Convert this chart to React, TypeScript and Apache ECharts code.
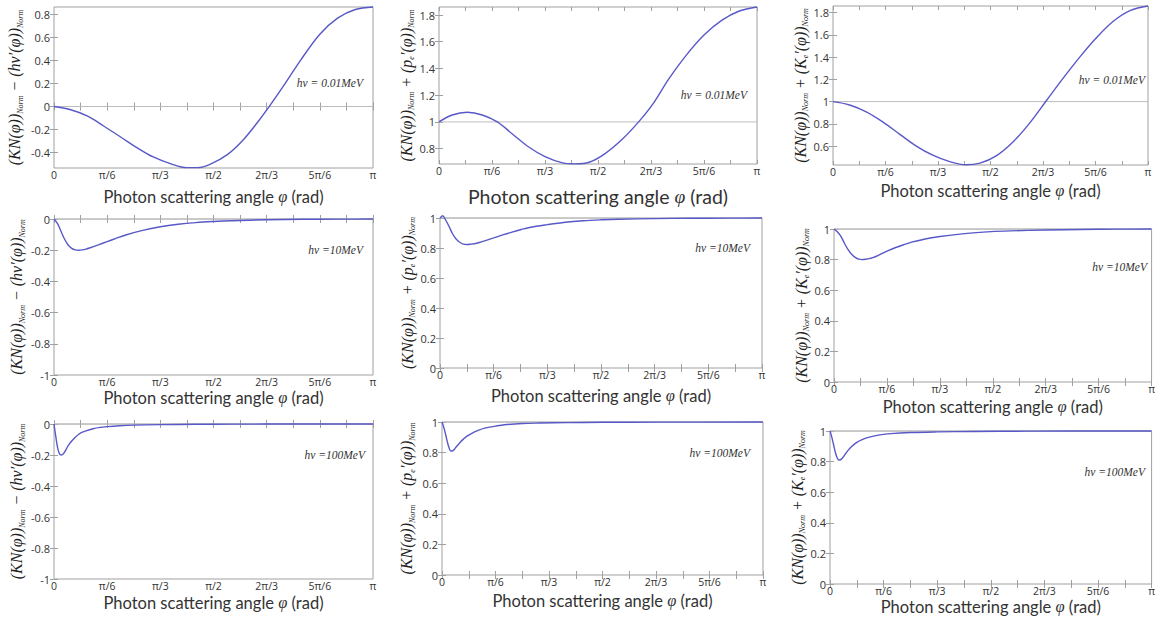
import React, { useEffect, useRef } from "react";
import * as echarts from "echarts";

// Angles are in degrees (0..180 corresponds to 0..π rad)
const xTickAngles = [0, 15, 30, 45, 60, 75, 90, 105, 120, 135, 150, 165, 180];
const xLabelAngles = [0, 30, 60, 90, 120, 150, 180];
const xLabelTexts = ["0", "π/6", "π/3", "π/2", "2π/3", "5π/6", "π"];

// Row 1: hν = 0.01 MeV
const p1Angle = [0, 9, 19, 28, 38, 47, 56, 66, 75, 81, 88, 98, 107, 115, 121, 130, 139, 150, 160, 170, 180];
const p1Value = [0, -0.026, -0.084, -0.17, -0.27, -0.36, -0.44, -0.5, -0.533, -0.533, -0.504, -0.417, -0.287, -0.135, -0.01, 0.19, 0.4, 0.63, 0.77, 0.845, 0.867];
const p2Angle = [0, 7.5, 16, 24.5, 33, 41.5, 51, 60, 70, 77, 85, 94, 104, 113, 121, 130, 140, 150, 160, 170, 180];
const p2Value = [1.0, 1.052, 1.072, 1.052, 1.0, 0.91, 0.81, 0.74, 0.693, 0.686, 0.698, 0.763, 0.874, 1.0, 1.133, 1.32, 1.5, 1.65, 1.76, 1.83, 1.86];
const p3Angle = [0, 9.5, 19, 28.6, 38, 47.6, 57, 66.7, 76, 84, 93, 103, 112, 122, 131, 141, 150, 160, 170, 180];
const p3Value = [1.0, 0.97, 0.908, 0.816, 0.708, 0.6, 0.518, 0.46, 0.432, 0.447, 0.51, 0.64, 0.8, 1.01, 1.2, 1.4, 1.565, 1.72, 1.82, 1.86];

// Row 2: hν = 10 MeV
const p4Angle = [0, 2, 4, 6, 8, 10, 12, 14, 16, 18, 20, 25, 30, 35, 40, 50, 60, 70, 80, 90, 100, 120, 140, 160, 180];
const p4Value = [0, -0.03, -0.08, -0.13, -0.167, -0.188, -0.198, -0.2, -0.198, -0.193, -0.186, -0.166, -0.145, -0.124, -0.104, -0.073, -0.05, -0.034, -0.023, -0.016, -0.011, -0.005, -0.002, -0.001, 0];
const p5Angle = [0, 1.5, 3, 5, 7, 9, 11, 13, 15, 17, 20, 25, 30, 35, 40, 45, 50, 60, 70, 80, 90, 100, 120, 140, 160, 180];
const p5Value = [1.0, 1.015, 0.99, 0.945, 0.895, 0.86, 0.838, 0.826, 0.823, 0.825, 0.83, 0.848, 0.867, 0.887, 0.905, 0.922, 0.937, 0.956, 0.972, 0.982, 0.988, 0.992, 0.996, 0.998, 0.999, 1.0];
const p6Angle = [0, 2, 4, 6, 8, 10, 12, 14, 16, 18, 20, 22, 24, 26, 28, 31, 35, 40, 44, 50, 59, 74, 89, 100, 120, 140, 160, 180];
const p6Value = [1.0, 0.98, 0.95, 0.905, 0.865, 0.835, 0.815, 0.803, 0.8, 0.802, 0.806, 0.813, 0.822, 0.833, 0.844, 0.86, 0.879, 0.899, 0.914, 0.93, 0.949, 0.97, 0.983, 0.988, 0.993, 0.997, 0.999, 1.0];

// Row 3: hν = 100 MeV
const p7Angle = [0, 1, 2, 3, 4, 5, 6, 7, 8, 10, 12, 14, 16, 18, 22, 26, 30, 37, 45, 60, 80, 100, 140, 180];
const p7Value = [0, -0.08, -0.15, -0.19, -0.2, -0.195, -0.18, -0.16, -0.14, -0.11, -0.085, -0.066, -0.053, -0.044, -0.031, -0.022, -0.017, -0.011, -0.007, -0.004, -0.002, -0.001, 0, 0];
const p8Angle = [0, 1, 2, 3, 4, 5, 6, 7, 8, 10, 12, 14, 17, 20, 24, 30, 35, 45, 55, 70, 90, 120, 180];
const p8Value = [1, 0.965, 0.92, 0.87, 0.83, 0.81, 0.812, 0.822, 0.838, 0.865, 0.888, 0.908, 0.928, 0.944, 0.96, 0.973, 0.982, 0.99, 0.993, 0.996, 0.998, 0.999, 1];
const p9Angle = [0, 1, 2, 3, 4, 5, 6, 7, 8, 10, 12, 15, 18, 22, 28, 34, 45, 60, 80, 110, 180];
const p9Value = [1, 0.96, 0.91, 0.86, 0.825, 0.81, 0.813, 0.825, 0.84, 0.872, 0.897, 0.926, 0.944, 0.96, 0.975, 0.983, 0.99, 0.994, 0.997, 0.999, 1];

// Axis ranges and tick labels
const yTicksP1 = [-0.4, -0.2, 0, 0.2, 0.4, 0.6, 0.8];
const yTicksP2 = [0.8, 1, 1.2, 1.4, 1.6, 1.8];
const yTicksP3 = [0.6, 0.8, 1, 1.2, 1.4, 1.6, 1.8];
const yTicksNeg = [-1, -0.8, -0.6, -0.4, -0.2, 0];
const yTicksPos = [0, 0.2, 0.4, 0.6, 0.8, 1];
const yMins = [-0.536, 0.685, 0.43, -1, 0, 0, -1, 0, 0];
const yMaxs = [0.867, 1.86, 1.86, 0, 1, 1, 0, 1, 1];
const refValues = [0, 1, 1, 0, 1, 1, 0, 1, 1];
const energies = ["0.01", "0.01", "0.01", "10", "10", "10", "100", "100", "100"];

const angles = [p1Angle, p2Angle, p3Angle, p4Angle, p5Angle, p6Angle, p7Angle, p8Angle, p9Angle];
const values = [p1Value, p2Value, p3Value, p4Value, p5Value, p6Value, p7Value, p8Value, p9Value];
const yTicks = [yTicksP1, yTicksP2, yTicksP3, yTicksNeg, yTicksPos, yTicksPos, yTicksNeg, yTicksPos, yTicksPos];

const yNames = [
  "{m|(KN(φ))}{s|Norm}{m| − (hν′(φ))}{s|Norm}",
  "{m|(KN(φ))}{s|Norm}{m| + (p}{s|e}{m|′(φ))}{s|Norm}",
  "{m|(KN(φ))}{s|Norm}{m| + (K}{s|e}{m|′(φ))}{s|Norm}",
];

const layouts = [
  { left: 54, top: 7, width: 319, height: 161, xGap: 20, yGap: 30, xFont: 16.5, ax: 363, ay: 83 },
  { left: 439, top: 7, width: 318, height: 157, xGap: 22, yGap: 22, xFont: 19.5, ax: 747, ay: 95 },
  { left: 833, top: 6, width: 315, height: 159, xGap: 17, yGap: 19, xFont: 16.5, ax: 1145, ay: 80 },
  { left: 54, top: 219, width: 319, height: 156, xGap: 14, yGap: 28, xFont: 16.5, ax: 363, ay: 250 },
  { left: 440, top: 218, width: 322, height: 150, xGap: 19, yGap: 22, xFont: 16.5, ax: 750, ay: 248 },
  { left: 834, top: 229, width: 322, height: 153, xGap: 16, yGap: 18, xFont: 16.5, ax: 1147, ay: 267 },
  { left: 54, top: 424, width: 319, height: 155, xGap: 15, yGap: 28, xFont: 16.5, ax: 365, ay: 455 },
  { left: 442, top: 422, width: 321, height: 153, xGap: 17, yGap: 26, xFont: 16.5, ax: 750, ay: 453 },
  { left: 830, top: 431, width: 322, height: 153, xGap: 14, yGap: 17, xFont: 16.5, ax: 1145, ay: 472 },
];

const CURVE = "#5858c8";
const FRAME = "#a0a0a0";
const TICK_FONT = "'Open Sans', 'Noto Sans', sans-serif";
const SERIF = "'Liberation Serif', 'DejaVu Serif', serif";

function buildOption() {
  const grid: any[] = [];
  const xAxis: any[] = [];
  const yAxis: any[] = [];
  const series: any[] = [];
  const graphic: any[] = [];

  layouts.forEach((L, i) => {
    grid.push({
      left: L.left, top: L.top, width: L.width, height: L.height,
      show: true, borderColor: FRAME, borderWidth: 1, backgroundColor: "transparent",
      containLabel: false,
    });
    const tickStyle = { show: true, inside: true, length: 4, lineStyle: { color: FRAME, width: 1 }, customValues: xTickAngles };
    xAxis.push({
      type: "value", gridIndex: i, min: 0, max: 180, position: "bottom",
      axisLine: { show: false }, splitLine: { show: false },
      axisTick: tickStyle,
      axisLabel: {
        customValues: xLabelAngles, margin: 2, color: "#333", fontSize: 10.5, lineHeight: 10, fontFamily: TICK_FONT,
        formatter: (v: number) => {
          const k = xLabelAngles.indexOf(Math.round(v));
          return k >= 0 ? xLabelTexts[k] : "";
        },
      },
      name: "Photon scattering angle {i|φ} (rad)",
      nameLocation: "middle", nameGap: L.xGap,
      nameTextStyle: {
        color: "#333", fontSize: L.xFont, fontFamily: "Lato, 'Open Sans', sans-serif", verticalAlign: "top",
        rich: { i: { fontSize: L.xFont, fontStyle: "italic", fontFamily: SERIF, color: "#333" } },
      },
    });
    xAxis.push({
      type: "value", gridIndex: i, min: 0, max: 180, position: "top",
      axisLine: { show: false }, splitLine: { show: false }, axisLabel: { show: false },
      axisTick: tickStyle,
    });
    const yt = yTicks[i];
    const yTickStyle = { show: true, inside: true, length: 4, lineStyle: { color: FRAME, width: 1 }, customValues: yt };
    yAxis.push({
      type: "value", gridIndex: i, min: yMins[i], max: yMaxs[i], position: "left",
      axisLine: { show: false }, splitLine: { show: false },
      axisTick: yTickStyle,
      axisLabel: {
        customValues: yt, margin: 4, color: "#333", fontSize: 11, fontFamily: TICK_FONT,
        formatter: (v: number) => String(parseFloat(v.toFixed(2))),
      },
      name: yNames[i % 3], nameLocation: "middle", nameGap: L.yGap,
      nameTextStyle: {
        rich: {
          m: { fontSize: 16, lineHeight: 19, fontStyle: "italic", fontFamily: SERIF, color: "#222" },
          s: { fontSize: 8, verticalAlign: "bottom", fontStyle: "italic", fontFamily: SERIF, color: "#222" },
        },
      },
    });
    yAxis.push({
      type: "value", gridIndex: i, min: yMins[i], max: yMaxs[i], position: "right",
      axisLine: { show: false }, splitLine: { show: false }, axisLabel: { show: false },
      axisTick: yTickStyle,
    });
    series.push({
      type: "line", xAxisIndex: 2 * i, yAxisIndex: 2 * i, symbol: "none", silent: true,
      data: [[0, refValues[i]], [180, refValues[i]]],
      lineStyle: { color: "#bdbdbd", width: 1 }, z: 1,
    });
    series.push({
      type: "line", xAxisIndex: 2 * i, yAxisIndex: 2 * i, symbol: "none",
      smooth: 0.35, clip: false,
      data: angles[i].map((a, k) => [a, values[i][k]]),
      lineStyle: { color: CURVE, width: 1.4 }, z: 3,
    });
    const e = energies[i];
    graphic.push({
      type: "text", x: L.ax, y: L.ay,
      style: {
        text: e === "0.01" ? `hν = ${e}MeV` : `hν =${e}MeV`,
        align: "right", verticalAlign: "middle",
        font: `italic 11.5px ${SERIF}`, fill: "#333",
      },
      z: 10,
    });
  });

  return { animation: false, backgroundColor: "#fff", grid, xAxis, yAxis, series, graphic };
}

export default function App() {
  const ref = useRef<HTMLDivElement>(null);
  useEffect(() => {
    if (!ref.current) return;
    const chart = echarts.init(ref.current, undefined, { renderer: "svg" });
    chart.setOption(buildOption() as any);
    return () => chart.dispose();
  }, []);
  return <div ref={ref} style={{ position: "fixed", left: 0, top: 0, width: 1158, height: 626, background: "#fff" }} />;
}
